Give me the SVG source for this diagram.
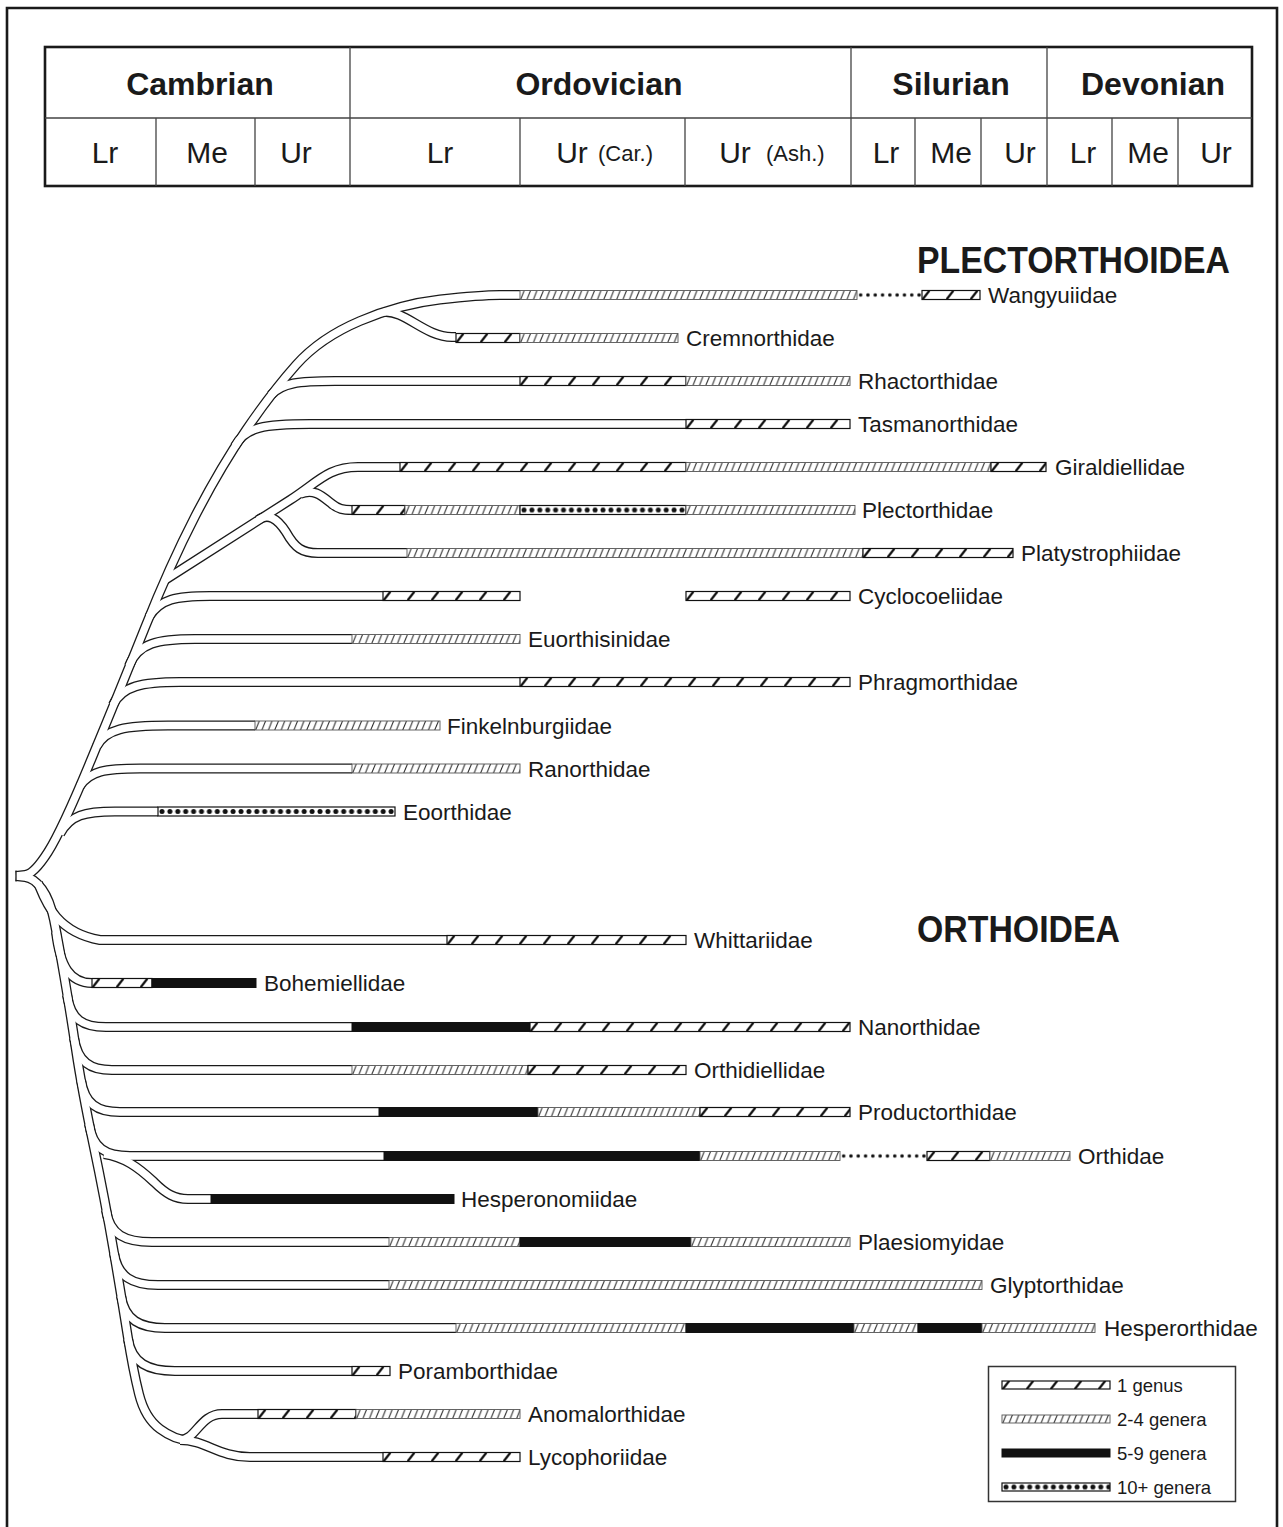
<svg xmlns="http://www.w3.org/2000/svg" width="1283" height="1527" viewBox="0 0 1283 1527">
<defs>
<pattern id="p1" patternUnits="userSpaceOnUse" x="0" y="-4.5" width="24" height="9">
<rect width="24" height="9" fill="#fff"/>
<line x1="0.5" y1="9" x2="7.5" y2="0" stroke="#111" stroke-width="2.3"/>
</pattern>
<pattern id="p2" patternUnits="userSpaceOnUse" x="0" y="-4.5" width="6.4" height="9">
<rect width="6.4" height="9" fill="#fff"/>
<line x1="0.6" y1="9" x2="4.2" y2="0" stroke="#222" stroke-width="1"/>
</pattern>
<pattern id="p10" patternUnits="userSpaceOnUse" x="0" y="-4.5" width="7.9" height="9">
<rect width="7.9" height="9" fill="#fff"/>
<circle cx="4" cy="4.5" r="2.5" fill="#111"/>
</pattern>
<pattern id="pd" patternUnits="userSpaceOnUse" x="0" y="-4.5" width="7.3" height="9">
<circle cx="3.65" cy="4.5" r="1.8" fill="#111"/>
</pattern>
</defs>
<style>
.tb{fill:none;stroke:#1a1a1a;stroke-width:10;stroke-linejoin:round}
.tw{fill:none;stroke:#fff;stroke-width:7.4;stroke-linejoin:round}
.o{fill:url(#p1);stroke:#111;stroke-width:1.2}
.m{fill:url(#p2);stroke:#555;stroke-width:0.9}
.s{fill:#111;stroke:#111;stroke-width:1}
.d{fill:url(#p10);stroke:#111;stroke-width:1.2}
.dl{fill:url(#pd)}
.lb{font-family:"Liberation Sans",Arial,sans-serif;font-size:22.5px;fill:#1a1a1a}
.hb{font-family:"Liberation Sans",Arial,sans-serif;font-size:32px;font-weight:bold;fill:#1a1a1a;text-anchor:middle}
.hr{font-family:"Liberation Sans",Arial,sans-serif;font-size:30px;fill:#1a1a1a;text-anchor:middle}
.hs{font-family:"Liberation Sans",Arial,sans-serif;font-size:22px;fill:#1a1a1a}
.cl{font-family:"Liberation Sans",Arial,sans-serif;font-size:37px;font-weight:bold;fill:#1a1a1a}
.lg{font-family:"Liberation Sans",Arial,sans-serif;font-size:18.5px;fill:#1a1a1a}
.gl{stroke:#444;stroke-width:1.3;fill:none}
</style>
<rect x="0" y="0" width="1283" height="1527" fill="#fff"/>
<path d="M7 1535 V8 H1277 V1535" fill="none" stroke="#1a1a1a" stroke-width="2.6"/>

<g id="header">
<rect x="45" y="47" width="1207" height="139" fill="none" stroke="#1a1a1a" stroke-width="2.6"/>
<path class="gl" d="M45 118 H1252 M350 47 V186 M851 47 V186 M1047 47 V186 M156 118 V186 M255 118 V186 M520 118 V186 M685 118 V186 M915 118 V186 M981 118 V186 M1112 118 V186 M1178 118 V186"/>
<text class="hb" x="200" y="95">Cambrian</text>
<text class="hb" x="599" y="95">Ordovician</text>
<text class="hb" x="951" y="95">Silurian</text>
<text class="hb" x="1153" y="95">Devonian</text>
<text class="hr" x="105" y="163">Lr</text>
<text class="hr" x="207" y="163">Me</text>
<text class="hr" x="296" y="163">Ur</text>
<text class="hr" x="440" y="163">Lr</text>
<text class="hr" x="572" y="163">Ur</text>
<text class="hs" x="598" y="161">(Car.)</text>
<text class="hr" x="735" y="163">Ur</text>
<text class="hs" x="766" y="161">(Ash.)</text>
<text class="hr" x="886" y="163">Lr</text>
<text class="hr" x="951" y="163">Me</text>
<text class="hr" x="1020" y="163">Ur</text>
<text class="hr" x="1083" y="163">Lr</text>
<text class="hr" x="1148" y="163">Me</text>
<text class="hr" x="1216" y="163">Ur</text>
</g>

<g id="connectors">
<g class="tb">
<path id="c-up" d="M16 876 L25 875 Q34 874 48 852 Q62 830 91 760 Q120 690 145 627.5 Q170 565 195 516.5 Q220 468 246 430 Q272 392 296 365 Q320 338 360 321 Q400 304 440 299.5 Q480 295 500 295 L520 295"/>
<path d="M384 312 C405 310 425 337 452 337 L456 337"/>
<path d="M271 395 C282 383 298 381 335 381 L520 381"/>
<path d="M235 446 C245 427 265 424 310 424 L686 424"/>
<path d="M165 580 L290 500 C318 482 328 467 358 467 L400 467"/>
<path d="M300 494 C314 488 322 496 332 504 C338 509 343 510 352 510"/>
<path d="M258 520 C268 513 277 518 286 532 C295 548 302 553 318 553 L407 553"/>
<path d="M149 617 C160 599 176 596 210 596 L383 596"/>
<path d="M129 666 C138 643 158 639 195 639 L352 639"/>
<path d="M113 705 C122 686 142 682 180 682 L520 682"/>
<path d="M97 746 C106 729 125 725.5 168 725.5 L255 725.5"/>
<path d="M80 786 C90 771 105 768.5 140 768.5 L352 768.5"/>
<path d="M60 834 C70 815 85 811.5 115 811.5 L158 811.5"/>
<path id="c-low" d="M16 876 L25 877 Q34 878 42 889 Q50 900 54 920 Q58 940 64 975 Q70 1010 76 1050 Q82 1090 93.5 1145 Q105 1200 113.5 1250 Q122 1300 127.5 1335 Q133 1370 139 1394 Q145 1418 160 1429 Q175 1440 188 1440"/>
<path d="M38 883 C45 900 55 932 100 940 L447 940"/>
<path d="M56 932 C60 966 70 983 92 983"/>
<path d="M67 995 C71 1020 83 1027 106 1027 L352 1027"/>
<path d="M74 1038 C78 1062 90 1070 112 1070 L352 1070"/>
<path d="M81 1080 C85 1104 97 1112 120 1112 L379 1112"/>
<path d="M89 1124 C93 1148 105 1156 130 1156 L384 1156"/>
<path d="M104 1154 C124 1157 138 1167 154 1182 C166 1194 175 1199 188 1199 L211 1199"/>
<path d="M106 1210 C110 1235 125 1242 152 1242 L389 1242"/>
<path d="M114 1253 C118 1277 132 1285 158 1285 L389 1285"/>
<path d="M121 1296 C125 1320 140 1328 165 1328 L456 1328"/>
<path d="M128 1339 C132 1363 148 1371 175 1371 L352 1371"/>
<path d="M180 1440 C196 1440 200 1414 222 1414 L258 1414"/>
<path d="M180 1440 C206 1440 218 1457 250 1457 L383 1457"/>
</g>
<g class="tw">
<path d="M16 876 L25 875 Q34 874 48 852 Q62 830 91 760 Q120 690 145 627.5 Q170 565 195 516.5 Q220 468 246 430 Q272 392 296 365 Q320 338 360 321 Q400 304 440 299.5 Q480 295 500 295 L520 295"/>
<path d="M384 312 C405 310 425 337 452 337 L456 337"/>
<path d="M271 395 C282 383 298 381 335 381 L520 381"/>
<path d="M235 446 C245 427 265 424 310 424 L686 424"/>
<path d="M165 580 L290 500 C318 482 328 467 358 467 L400 467"/>
<path d="M300 494 C314 488 322 496 332 504 C338 509 343 510 352 510"/>
<path d="M258 520 C268 513 277 518 286 532 C295 548 302 553 318 553 L407 553"/>
<path d="M149 617 C160 599 176 596 210 596 L383 596"/>
<path d="M129 666 C138 643 158 639 195 639 L352 639"/>
<path d="M113 705 C122 686 142 682 180 682 L520 682"/>
<path d="M97 746 C106 729 125 725.5 168 725.5 L255 725.5"/>
<path d="M80 786 C90 771 105 768.5 140 768.5 L352 768.5"/>
<path d="M60 834 C70 815 85 811.5 115 811.5 L158 811.5"/>
<path d="M16 876 L25 877 Q34 878 42 889 Q50 900 54 920 Q58 940 64 975 Q70 1010 76 1050 Q82 1090 93.5 1145 Q105 1200 113.5 1250 Q122 1300 127.5 1335 Q133 1370 139 1394 Q145 1418 160 1429 Q175 1440 188 1440"/>
<path d="M38 883 C45 900 55 932 100 940 L447 940"/>
<path d="M56 932 C60 966 70 983 92 983"/>
<path d="M67 995 C71 1020 83 1027 106 1027 L352 1027"/>
<path d="M74 1038 C78 1062 90 1070 112 1070 L352 1070"/>
<path d="M81 1080 C85 1104 97 1112 120 1112 L379 1112"/>
<path d="M89 1124 C93 1148 105 1156 130 1156 L384 1156"/>
<path d="M104 1154 C124 1157 138 1167 154 1182 C166 1194 175 1199 188 1199 L211 1199"/>
<path d="M106 1210 C110 1235 125 1242 152 1242 L389 1242"/>
<path d="M114 1253 C118 1277 132 1285 158 1285 L389 1285"/>
<path d="M121 1296 C125 1320 140 1328 165 1328 L456 1328"/>
<path d="M128 1339 C132 1363 148 1371 175 1371 L352 1371"/>
<path d="M180 1440 C196 1440 200 1414 222 1414 L258 1414"/>
<path d="M180 1440 C206 1440 218 1457 250 1457 L383 1457"/>
</g>
<line x1="16" y1="870.5" x2="16" y2="881.5" stroke="#1a1a1a" stroke-width="1.3"/>
</g>

<text class="cl" x="917" y="273" textLength="313" lengthAdjust="spacingAndGlyphs">PLECTORTHOIDEA</text>
<text class="cl" x="917" y="942" textLength="203" lengthAdjust="spacingAndGlyphs">ORTHOIDEA</text>

<g id="n-wangyuiidae">
<rect class="m" transform="translate(520 295)" y="-4.5" width="337" height="9"/>
<rect class="dl" transform="translate(857 295)" y="-4.5" width="65" height="9"/>
<rect class="o" transform="translate(922 295)" y="-4.5" width="58" height="9"/>
<text class="lb" x="988" y="303">Wangyuiidae</text>
</g>
<g id="n-cremnorthidae">
<rect class="o" transform="translate(456 338)" y="-4.5" width="64" height="9"/>
<rect class="m" transform="translate(520 338)" y="-4.5" width="158" height="9"/>
<text class="lb" x="686" y="346">Cremnorthidae</text>
</g>
<g id="n-rhactorthidae">
<rect class="o" transform="translate(520 381)" y="-4.5" width="166" height="9"/>
<rect class="m" transform="translate(686 381)" y="-4.5" width="164" height="9"/>
<text class="lb" x="858" y="389">Rhactorthidae</text>
</g>
<g id="n-tasmanorthidae">
<rect class="o" transform="translate(686 424)" y="-4.5" width="164" height="9"/>
<text class="lb" x="858" y="432">Tasmanorthidae</text>
</g>
<g id="n-giraldiellidae">
<rect class="o" transform="translate(400 467)" y="-4.5" width="286" height="9"/>
<rect class="m" transform="translate(686 467)" y="-4.5" width="305" height="9"/>
<rect class="o" transform="translate(991 467)" y="-4.5" width="55" height="9"/>
<text class="lb" x="1055" y="475">Giraldiellidae</text>
</g>
<g id="n-plectorthidae">
<rect class="o" transform="translate(352 510)" y="-4.5" width="53" height="9"/>
<rect class="m" transform="translate(405 510)" y="-4.5" width="115" height="9"/>
<rect class="d" transform="translate(520 510)" y="-4.5" width="166" height="9"/>
<rect class="m" transform="translate(686 510)" y="-4.5" width="169" height="9"/>
<text class="lb" x="862" y="518">Plectorthidae</text>
</g>
<g id="n-platystrophiidae">
<rect class="m" transform="translate(407 553)" y="-4.5" width="456" height="9"/>
<rect class="o" transform="translate(863 553)" y="-4.5" width="150" height="9"/>
<text class="lb" x="1021" y="561">Platystrophiidae</text>
</g>
<g id="n-cyclocoeliidae">
<rect class="o" transform="translate(383 596)" y="-4.5" width="137" height="9"/>
<rect class="o" transform="translate(686 596)" y="-4.5" width="164" height="9"/>
<text class="lb" x="858" y="604">Cyclocoeliidae</text>
</g>
<g id="n-euorthisinidae">
<rect class="m" transform="translate(352 639)" y="-4.5" width="168" height="9"/>
<text class="lb" x="528" y="647">Euorthisinidae</text>
</g>
<g id="n-phragmorthidae">
<rect class="o" transform="translate(520 682)" y="-4.5" width="330" height="9"/>
<text class="lb" x="858" y="690">Phragmorthidae</text>
</g>
<g id="n-finkelnburgiidae">
<rect class="m" transform="translate(255 725.5)" y="-4.5" width="185" height="9"/>
<text class="lb" x="447" y="733.5">Finkelnburgiidae</text>
</g>
<g id="n-ranorthidae">
<rect class="m" transform="translate(352 768.5)" y="-4.5" width="168" height="9"/>
<text class="lb" x="528" y="776.5">Ranorthidae</text>
</g>
<g id="n-eoorthidae">
<rect class="d" transform="translate(158 811.5)" y="-4.5" width="237" height="9"/>
<text class="lb" x="403" y="819.5">Eoorthidae</text>
</g>

<g id="n-whittariidae">
<rect class="o" transform="translate(447 940)" y="-4.5" width="239" height="9"/>
<text class="lb" x="694" y="948">Whittariidae</text>
</g>
<g id="n-bohemiellidae">
<rect class="o" transform="translate(92 983)" y="-4.5" width="60" height="9"/>
<rect class="s" transform="translate(152 983)" y="-4.5" width="104" height="9"/>
<text class="lb" x="264" y="991">Bohemiellidae</text>
</g>
<g id="n-nanorthidae">
<rect class="s" transform="translate(352 1027)" y="-4.5" width="178" height="9"/>
<rect class="o" transform="translate(530 1027)" y="-4.5" width="320" height="9"/>
<text class="lb" x="858" y="1035">Nanorthidae</text>
</g>
<g id="n-orthidiellidae">
<rect class="m" transform="translate(352 1070)" y="-4.5" width="176" height="9"/>
<rect class="o" transform="translate(528 1070)" y="-4.5" width="158" height="9"/>
<text class="lb" x="694" y="1078">Orthidiellidae</text>
</g>
<g id="n-productorthidae">
<rect class="s" transform="translate(379 1112)" y="-4.5" width="159" height="9"/>
<rect class="m" transform="translate(538 1112)" y="-4.5" width="162" height="9"/>
<rect class="o" transform="translate(700 1112)" y="-4.5" width="150" height="9"/>
<text class="lb" x="858" y="1120">Productorthidae</text>
</g>
<g id="n-orthidae">
<rect class="s" transform="translate(384 1156)" y="-4.5" width="316" height="9"/>
<rect class="m" transform="translate(700 1156)" y="-4.5" width="140" height="9"/>
<rect class="dl" transform="translate(840 1156)" y="-4.5" width="87" height="9"/>
<rect class="o" transform="translate(927 1156)" y="-4.5" width="63" height="9"/>
<rect class="m" transform="translate(990 1156)" y="-4.5" width="80" height="9"/>
<text class="lb" x="1078" y="1164">Orthidae</text>
</g>
<g id="n-hesperonomiidae">
<rect class="s" transform="translate(211 1199)" y="-4.5" width="243" height="9"/>
<text class="lb" x="461" y="1207">Hesperonomiidae</text>
</g>
<g id="n-plaesiomyidae">
<rect class="m" transform="translate(389 1242)" y="-4.5" width="131" height="9"/>
<rect class="s" transform="translate(520 1242)" y="-4.5" width="171" height="9"/>
<rect class="m" transform="translate(691 1242)" y="-4.5" width="159" height="9"/>
<text class="lb" x="858" y="1250">Plaesiomyidae</text>
</g>
<g id="n-glyptorthidae">
<rect class="m" transform="translate(389 1285)" y="-4.5" width="593" height="9"/>
<text class="lb" x="990" y="1293">Glyptorthidae</text>
</g>
<g id="n-hesperorthidae">
<rect class="m" transform="translate(456 1328)" y="-4.5" width="230" height="9"/>
<rect class="s" transform="translate(686 1328)" y="-4.5" width="168" height="9"/>
<rect class="m" transform="translate(854 1328)" y="-4.5" width="64" height="9"/>
<rect class="s" transform="translate(918 1328)" y="-4.5" width="64" height="9"/>
<rect class="m" transform="translate(982 1328)" y="-4.5" width="113" height="9"/>
<text class="lb" x="1104" y="1336">Hesperorthidae</text>
</g>
<g id="n-poramborthidae">
<rect class="o" transform="translate(352 1371)" y="-4.5" width="38" height="9"/>
<text class="lb" x="398" y="1379">Poramborthidae</text>
</g>
<g id="n-anomalorthidae">
<rect class="o" transform="translate(258 1414)" y="-4.5" width="98" height="9"/>
<rect class="m" transform="translate(356 1414)" y="-4.5" width="164" height="9"/>
<text class="lb" x="528" y="1422">Anomalorthidae</text>
</g>
<g id="n-lycophoriidae">
<rect class="o" transform="translate(383 1457)" y="-4.5" width="137" height="9"/>
<text class="lb" x="528" y="1465">Lycophoriidae</text>
</g>

<g id="legend">
<rect x="988.5" y="1366.5" width="247" height="135" fill="#fff" stroke="#333" stroke-width="1.5"/>
<rect class="o" transform="translate(1002 1385)" y="-4" width="108" height="8"/>
<text class="lg" x="1117" y="1391.5">1 genus</text>
<rect class="m" transform="translate(1002 1419)" y="-4" width="108" height="8"/>
<text class="lg" x="1117" y="1425.5">2-4 genera</text>
<rect class="s" transform="translate(1002 1453)" y="-4" width="108" height="8"/>
<text class="lg" x="1117" y="1459.5">5-9 genera</text>
<rect class="d" transform="translate(1002 1487)" y="-4" width="108" height="8"/>
<text class="lg" x="1117" y="1493.5">10+ genera</text>
</g>
</svg>
